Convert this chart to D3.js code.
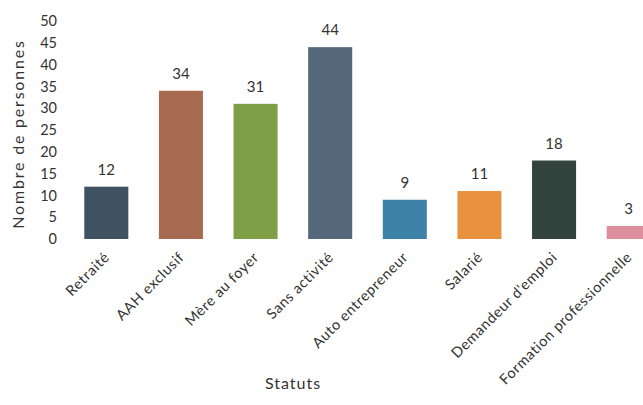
<!DOCTYPE html>
<html>
<head>
<meta charset="utf-8">
<script src="https://cdn.jsdelivr.net/npm/d3@7"></script>
<style>
  body { margin: 0; background: #fff; }
  text { font-family: Lato, "Open Sans", sans-serif; fill: #333; }
</style>
</head>
<body>
<div id="chart"></div>
<script>
// Statuts and number of people
const categories = ["Retraité", "AAH exclusif", "Mère au foyer", "Sans activité",
  "Auto entrepreneur", "Salarié", "Demandeur d'emploi", "Formation professionnelle"];
const values = [12, 34, 31, 44, 9, 11, 18, 3];
const barColors = ["#3f5262", "#a86a50", "#7e9f45", "#55677a", "#3f82a8", "#e8913f", "#33443f", "#de8f9e"];
const yTicks = [0, 5, 10, 15, 20, 25, 30, 35, 40, 45, 50];

const width = 643, height = 405;
const margin = { top: 21, right: -23, bottom: 166, left: 69 };

const svg = d3.select("#chart").append("svg")
  .attr("width", width)
  .attr("height", height);

const x = d3.scaleBand()
  .domain(categories)
  .range([margin.left, width - margin.right])
  .paddingInner(0.41)
  .paddingOuter(0.205);

const y = d3.scaleLinear()
  .domain([0, 50])
  .range([height - margin.bottom, margin.top]);

// y axis, labels only
const yAxis = svg.append("g")
  .attr("transform", `translate(${margin.left - 12},0)`)
  .call(d3.axisLeft(y).tickValues(yTicks).tickSize(0).tickPadding(0));
yAxis.select(".domain").remove();
yAxis.selectAll("text").style("font-size", "14.5px").attr("fill", "#333");

// bars
svg.selectAll(".bar")
  .data(values)
  .join("rect")
  .attr("class", "bar")
  .attr("x", (d, i) => x(categories[i]))
  .attr("y", d => y(d))
  .attr("width", x.bandwidth())
  .attr("height", d => y(0) - y(d))
  .attr("fill", (d, i) => barColors[i]);

// value labels
svg.selectAll(".val")
  .data(values)
  .join("text")
  .attr("class", "val")
  .attr("x", (d, i) => x(categories[i]) + x.bandwidth() / 2)
  .attr("y", d => y(d) - 12)
  .attr("text-anchor", "middle")
  .style("font-size", "15px")
  .text(d => d);

// x axis, rotated labels
const xAxis = svg.append("g")
  .attr("transform", `translate(0,${y(0) + 13})`)
  .call(d3.axisBottom(x).tickSize(0).tickPadding(0));
xAxis.select(".domain").remove();
xAxis.selectAll("text")
  .attr("fill", "#333")
  .style("font-size", "14.5px")
  .style("letter-spacing", "0.6px")
  .attr("text-anchor", "end")
  .attr("dy", "0.6em")
  .attr("transform", "translate(-2,0) rotate(-45)");

// axis titles
svg.append("text")
  .attr("x", 293)
  .attr("y", 389)
  .attr("text-anchor", "middle")
  .style("font-size", "16px")
  .style("letter-spacing", "1px")
  .text("Statuts");

svg.append("text")
  .attr("transform", `translate(24,${(y(0) + y(50)) / 2 + 4}) rotate(-90)`)
  .attr("text-anchor", "middle")
  .style("font-size", "16px")
  .style("letter-spacing", "1.8px")
  .text("Nombre de personnes");
</script>
</body>
</html>
